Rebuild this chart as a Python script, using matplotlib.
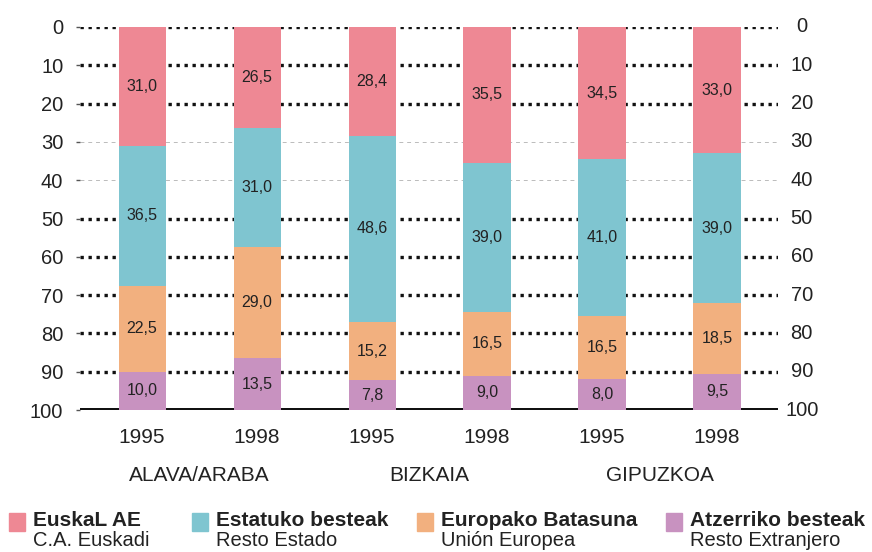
import matplotlib.pyplot as plt
import matplotlib.transforms as mtransforms
from matplotlib.patches import Rectangle
import numpy as np

plt.rcParams['font.family'] = ['Liberation Sans', 'DejaVu Sans']

years = ["1995", "1998", "1995", "1998", "1995", "1998"]
regions = ["ALAVA/ARABA", "BIZKAIA", "GIPUZKOA"]

euskal_ae = [31.0, 26.5, 28.4, 35.5, 34.5, 33.0]
estatuko = [36.5, 31.0, 48.6, 39.0, 41.0, 39.0]
europako = [22.5, 29.0, 15.2, 16.5, 16.5, 18.5]
atzerriko = [10.0, 13.5, 7.8, 9.0, 8.0, 9.5]

series = [euskal_ae, estatuko, europako, atzerriko]
colors = ["#EE8894", "#7FC5D0", "#F2B07F", "#C892C0"]
legend_main = ["EuskaL AE", "Estatuko besteak", "Europako Batasuna", "Atzerriko besteak"]
legend_sub = ["C.A. Euskadi", "Resto Estado", "Unión Europea", "Resto Extranjero"]

fig = plt.figure(figsize=(8.72, 5.52), dpi=100)
ax = fig.add_axes([80 / 872, 1 - 410 / 552, 698 / 872, 383 / 552])

x = np.arange(len(years))

# grid lines: heavy dotted except 30 and 40 which are faint
for v in range(0, 100, 10):
    if v in (30, 40):
        ax.axhline(v, color="#bbbbbb", lw=0.7, linestyle=(0, (4, 4)), zorder=1)
    else:
        ax.axhline(v, color="#111111", lw=2.4, linestyle=(0, (1, 1.4)), zorder=1)
ax.axhline(100, color="#111111", lw=3.6, zorder=1)

bottom = np.zeros(len(years))
for vals, c in zip(series, colors):
    vals = np.array(vals)
    ax.bar(x, vals, width=0.41, bottom=bottom, color=c, zorder=2)
    for xi, b, v in zip(x, bottom, vals):
        ax.text(xi, b + v / 2, f"{v:.1f}".replace(".", ","), ha="center", va="center",
                fontsize=11.5, color="#222222", zorder=3)
    bottom += vals

ax.set_ylim(100, 0)
ax.set_xlim(-0.54, 5.53)
for s in ax.spines.values():
    s.set_visible(False)

ax.set_yticks(range(0, 101, 10))
ax.tick_params(axis="y", length=3, width=1, color="#555555", pad=9, labelsize=14.5, labelcolor="#222222")
ax.set_xticks(x)
ax.set_xticklabels(years)
ax.tick_params(axis="x", length=0, pad=13, labelsize=15, labelcolor="#222222")

# right-hand labels
trans = mtransforms.blended_transform_factory(ax.transAxes, ax.transData)
for v in range(0, 101, 10):
    ax.text(1.034, v, str(v), transform=trans, ha="center", va="center",
            fontsize=14.5, color="#222222")

# region labels
for i, r in enumerate(regions):
    ax.text(x[2 * i:2 * i + 2].mean(), 117, r, ha="center", va="center",
            fontsize=15, color="#222222", clip_on=False)

# legend
col_x = [9, 192, 417, 666]
for cx, c, m, s in zip(col_x, colors, legend_main, legend_sub):
    fig.patches.append(Rectangle((cx / 872, 1 - 531 / 552), 16 / 872, 18 / 552,
                                 transform=fig.transFigure, color=c))
    fig.text((cx + 24) / 872, 1 - 521 / 552, m, ha="left", va="center",
             fontsize=15, fontweight="bold", color="#222222")
    fig.text((cx + 24) / 872, 1 - 540 / 552, s, ha="left", va="center",
             fontsize=14.5, color="#222222")

fig.savefig("out.png", dpi=100)
